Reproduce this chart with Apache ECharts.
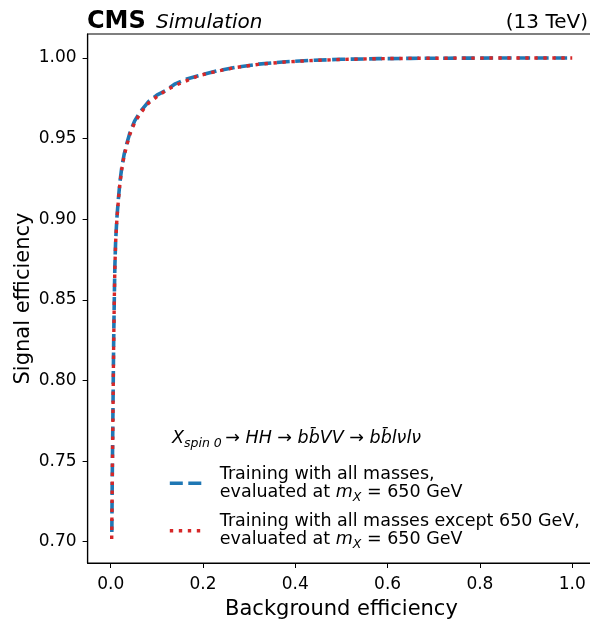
<!DOCTYPE html>
<html><head><meta charset="utf-8">
<script src="https://cdn.jsdelivr.net/npm/echarts@6/dist/echarts.min.js"></script>
<style>html,body{margin:0;padding:0;background:#fff}#c{width:590px;height:619px}</style>
</head><body><div id="c"></div>
<script>
// Background efficiency (x) and signal efficiency (y) for the two trainings
const bkgEffAll = [0.0025, 0.0033, 0.0043, 0.0055, 0.0065, 0.0078, 0.0090, 0.0108, 0.0135, 0.0165, 0.0200, 0.0240, 0.0290, 0.0350, 0.0420, 0.0520, 0.0650, 0.0820, 0.1000, 0.1200, 0.1400, 0.1650, 0.1900, 0.2300, 0.2700, 0.3200, 0.3800, 0.4400, 0.5000, 0.5800, 0.6500, 0.7300, 0.8500, 1.0000];
const sigEffAll = [0.706, 0.735, 0.763, 0.797, 0.825, 0.850, 0.870, 0.887, 0.901, 0.912, 0.923, 0.932, 0.940, 0.947, 0.954, 0.961, 0.967, 0.973, 0.977, 0.980, 0.984, 0.987, 0.989, 0.992, 0.9942, 0.9962, 0.9977, 0.9986, 0.9992, 0.9996, 0.9998, 0.9999, 1.0, 1.0];
const bkgEffExcl = [0.0022, 0.0033, 0.0043, 0.0055, 0.0065, 0.0078, 0.0090, 0.0108, 0.0135, 0.0165, 0.0200, 0.0240, 0.0290, 0.0350, 0.0420, 0.0520, 0.0650, 0.0820, 0.1000, 0.1200, 0.1400, 0.1650, 0.1900, 0.2300, 0.2700, 0.3200, 0.3800, 0.4400, 0.5000, 0.5800, 0.6500, 0.7300, 0.8500, 1.0000];
const sigEffExcl = [0.7017, 0.733, 0.761, 0.795, 0.823, 0.849, 0.869, 0.886, 0.900, 0.911, 0.922, 0.931, 0.939, 0.946, 0.953, 0.960, 0.966, 0.972, 0.976, 0.980, 0.983, 0.986, 0.989, 0.9918, 0.9941, 0.9961, 0.9976, 0.9985, 0.9991, 0.9996, 0.9998, 0.9999, 1.0, 1.0];
const xTicks = [0.0, 0.2, 0.4, 0.6, 0.8, 1.0];
const yTicks = [0.70, 0.75, 0.80, 0.85, 0.90, 0.95, 1.00];
const nameAll = 'all';
const nameExcl = 'excl';

const FF = 'DejaVu Sans';
const zip = (xs, ys) => xs.map((x, i) => [x, ys[i]]);
const styleAll = {color: '#1f77b4', width: 3.6, type: [13, 5.5]};
const styleExcl = {color: '#d62728', width: 3.4, type: [3.4, 5.6]};

const legendRich = {
  t: {fontFamily: FF, fontSize: 17.5, lineHeight: 18, color: '#000'},
  m: {fontFamily: FF, fontSize: 17.5, lineHeight: 18, fontStyle: 'italic', color: '#000'},
  s: {fontFamily: FF, fontSize: 12.5, lineHeight: 8, padding: [10, 0, 0, 0], fontStyle: 'italic', color: '#000'}
};
const evalLine = '{t|evaluated at }{m|m}{s|X}{t| = 650 GeV}';
const legendText = {};
legendText[nameAll] = '{t|Training with all masses,}\n' + evalLine;
legendText[nameExcl] = '{t|Training with all masses except 650 GeV,}\n' + evalLine;

const chart = echarts.init(document.getElementById('c'), null, {renderer: 'canvas'});
chart.setOption({
  animation: false,
  backgroundColor: '#fff',
  grid: {left: 87.6, top: 34, width: 507.7, height: 529, containLabel: false, outerBoundsMode: 'none',
         show: true, borderColor: '#000', borderWidth: 1.2, backgroundColor: 'transparent'},
  xAxis: {
    type: 'value', min: -0.05, max: 1.05,
    name: 'Background efficiency', nameLocation: 'middle', nameGap: 36,
    nameTextStyle: {fontFamily: FF, fontSize: 21, color: '#000'},
    axisLine: {show: true, onZero: false, lineStyle: {color: '#000', width: 1.2}},
    axisTick: {show: true, length: 5, lineStyle: {color: '#000', width: 1}, customValues: xTicks},
    axisLabel: {fontFamily: FF, fontSize: 17, color: '#000', margin: 13, customValues: xTicks, formatter: v => v.toFixed(1)},
    splitLine: {show: false}
  },
  yAxis: {
    type: 'value', min: 0.6868, max: 1.0149,
    name: 'Signal efficiency', nameLocation: 'middle', nameGap: 54, nameMoveOverlap: false,
    nameTextStyle: {fontFamily: FF, fontSize: 21, color: '#000'},
    axisLine: {show: true, onZero: false, lineStyle: {color: '#000', width: 1.2}},
    axisTick: {show: true, length: 5, lineStyle: {color: '#000', width: 1}, customValues: yTicks},
    axisLabel: {fontFamily: FF, fontSize: 17, color: '#000', margin: 11, customValues: yTicks, formatter: v => v.toFixed(2)},
    splitLine: {show: false}
  },
  legend: {
    orient: 'vertical', left: 168, top: 465.3, padding: 0, itemWidth: 32, itemHeight: 14, itemGap: 9,
    data: [{name: nameAll, lineStyle: styleAll}, {name: nameExcl, lineStyle: styleExcl}],
    formatter: n => legendText[n],
    itemStyle: {opacity: 0, borderWidth: 0},
    textStyle: {padding: [0, 0, 0, 13], rich: legendRich},
    selectedMode: false
  },
  graphic: [
    {type: 'text', left: 87, top: 10, style: {text: 'CMS', font: 'bold 24px "DejaVu Sans"', fill: '#000'}},
    {type: 'text', left: 156, top: 12.5, style: {text: 'Simulation', font: 'italic 20px "DejaVu Sans"', fill: '#000'}},
    {type: 'text', right: 2, top: 12.5, style: {text: '(13 TeV)', font: '20px "DejaVu Sans"', fill: '#000'}},
    {type: 'text', left: 172, top: 427, style: {
      text: '{m|X}{s|spin 0}{t|\u2009→ }{m|HH}{t| → }{m|bb\u0304VV}{t| → }{m|bb\u0304lνlν}',
      rich: legendRich
    }}
  ],
  series: [
    {name: nameAll, type: 'line', data: zip(bkgEffAll, sigEffAll), symbol: 'none', showSymbol: false,
     lineStyle: styleAll, itemStyle: {color: styleAll.color}, z: 2},
    {name: nameExcl, type: 'line', data: zip(bkgEffExcl, sigEffExcl), symbol: 'none', showSymbol: false,
     lineStyle: styleExcl, itemStyle: {color: styleExcl.color}, z: 3}
  ]
});
</script></body></html>
